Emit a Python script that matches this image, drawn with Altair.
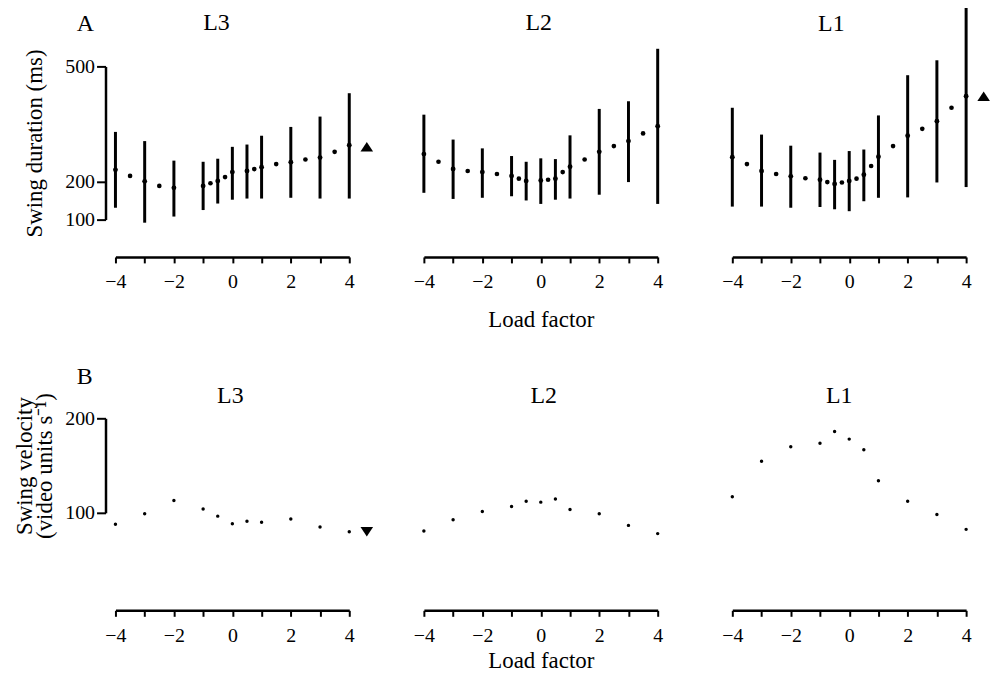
import altair as alt
import pandas as pd

FONT = "Liberation Serif"

# ---------------- Panel A: swing duration (ms) ----------------
bar_lf = [-4, -3, -2, -1, -0.5, 0, 0.5, 1, 2, 3, 4]

a3_mean = [230, 200, 183, 188, 201, 224, 227, 237, 250, 262, 294]
a3_lo = [131, 92, 108, 125, 142, 152, 155, 155, 157, 155, 155]
a3_hi = [329, 305, 254, 251, 259, 290, 296, 319, 342, 369, 430]
a3_mid_lf = [-3.5, -2.5, -0.75, -0.25, 0.75, 1.5, 2.5, 3.5]
a3_mid = [214, 188, 195, 211, 232, 245, 257, 277]

a2_mean = [271, 232, 224, 214, 201, 202, 207, 238, 277, 305, 344]
a2_lo = [170, 154, 157, 161, 150, 141, 152, 155, 165, 198, 141]
a2_hi = [374, 309, 286, 266, 251, 260, 258, 320, 389, 409, 546]
a2_mid_lf = [-3.5, -2.5, -1.5, -0.75, 0.25, 0.75, 1.5, 2.5, 3.5]
a2_mid = [251, 227, 219, 207, 204, 224, 257, 292, 325]

a1_mean = [263, 227, 213, 204, 193, 201, 217, 264, 319, 357, 422]
a1_lo = [134, 134, 131, 133, 127, 122, 148, 157, 158, 197, 185]
a1_hi = [392, 322, 293, 275, 256, 279, 283, 372, 477, 516, 657]
a1_mid_lf = [-3.5, -2.5, -1.5, -0.75, -0.25, 0.25, 0.75, 1.5, 2.5, 3.5]
a1_mid = [245, 219, 208, 198, 197, 207, 240, 292, 337, 392]

# triangles (marker beyond load factor 4)
tri_lf = 4.6
a3_tri = 290
a1_tri = 422

# ---------------- Panel B: swing velocity ----------------
b_lf = [-4, -3, -2, -1, -0.5, 0, 0.5, 1, 2, 3, 4]
b3_vel = [88, 99, 113, 104, 96.5, 88.5, 91, 90, 93.5, 85, 80]
b2_vel = [80.7, 92.6, 101.4, 106.7, 112.3, 111.3, 114.7, 103.5, 99, 86.7, 78]
b1_vel = [117, 154.5, 170, 173.7, 186, 178, 166.7, 134, 112.3, 98.3, 82.5]
b3_tri = 80

x_ticks = [-4, -3, -2, -1, 0, 1, 2, 3, 4]

W = 235
HA = 154
HB = 95

TRI_UP = "M0,-0.75L1,0.75L-1,0.75Z"
TRI_DOWN = "M0,0.75L1,-0.75L-1,-0.75Z"

xscale = alt.Scale(domain=[-4, 4], nice=False, zero=False)
yscaleA = alt.Scale(domain=[100, 500], nice=False, zero=False)
yscaleB = alt.Scale(domain=[100, 200], nice=False, zero=False)


def xaxis(offset, title, tpad):
    return alt.Axis(
        values=x_ticks,
        labelExpr="datum.value % 2 == 0 ? datum.label : ''",
        offset=offset, tickSize=6, tickWidth=2, domainWidth=2.5,
        domainColor="black", tickColor="black",
        labelFont=FONT, labelFontSize=20, labelColor="black",
        labelPadding=9, labelFlush=False, labelOverlap=False, grid=False,
        title=title, titleFont=FONT, titleFontSize=23,
        titleFontWeight="normal", titleColor="black", titlePadding=tpad,
    )


def yaxis(values, title, tpad):
    return alt.Axis(
        values=values, offset=10, tickSize=9, tickWidth=2, domainWidth=2.5,
        domainColor="black", tickColor="black",
        labelFont=FONT, labelFontSize=20, labelColor="black",
        labelPadding=2, grid=False,
        title=title, titleFont=FONT, titleFontSize=23, titleLineHeight=20,
        titleFontWeight="normal", titleColor="black", titlePadding=tpad,
    )


def ptitle(txt, offset, dx):
    return alt.TitleParams(txt, font=FONT, fontSize=24, fontWeight="normal",
                           color="black", offset=offset, dx=dx, anchor="middle")


def panel_a(name, mean, lo, hi, mid_lf, mid, tri, show_y, xtitle, toff, tdx):
    bars = pd.DataFrame({"lf": bar_lf, "v": mean, "lo": lo, "hi": hi})
    mids = pd.DataFrame({"lf": mid_lf, "v": mid})
    yax = yaxis([100, 200, 500], "Swing duration (ms)", 18) if show_y else None
    ytitle = "Swing duration (ms)"
    xe = alt.X("lf:Q", scale=xscale, axis=xaxis(37.5, xtitle, 16.5), title=xtitle)
    rules = alt.Chart(bars).mark_rule(color="black", strokeWidth=3).encode(
        x=xe, y=alt.Y("lo:Q", scale=yscaleA, axis=yax, title=ytitle), y2="hi:Q")
    centers = alt.Chart(bars).mark_circle(color="black", opacity=1, size=24).encode(
        x=xe, y=alt.Y("v:Q", scale=yscaleA, axis=yax, title=ytitle))
    dots = alt.Chart(mids).mark_circle(color="black", opacity=1, size=22).encode(
        x=xe, y=alt.Y("v:Q", scale=yscaleA, axis=yax, title=ytitle))
    layers = [rules, centers, dots]
    if tri is not None:
        tdf = pd.DataFrame({"lf": [tri_lf], "v": [tri]})
        layers.append(alt.Chart(tdf).mark_point(shape=TRI_UP, filled=True, color="black",
                                                opacity=1, size=160).encode(
            x=xe, y=alt.Y("v:Q", scale=yscaleA, axis=yax, title=ytitle)))
    return alt.layer(*layers).properties(width=W, height=HA, title=ptitle(name, toff, tdx))


def panel_b(name, vel, tri, show_y, xtitle, toff, tdx):
    df = pd.DataFrame({"lf": b_lf, "v": vel})
    yt = ["Swing velocity", "(video units s\u207b\u00b9)"]
    yax = yaxis([100, 200], yt, 8.5) if show_y else None
    xe = alt.X("lf:Q", scale=xscale, axis=xaxis(98, xtitle, 4.5), title=xtitle)
    ye = alt.Y("v:Q", scale=yscaleB, axis=yax, title=yt)
    pts = alt.Chart(df).mark_circle(color="black", opacity=1, size=12).encode(x=xe, y=ye)
    layers = [pts]
    if tri is not None:
        tdf = pd.DataFrame({"lf": [tri_lf], "v": [tri]})
        layers.append(alt.Chart(tdf).mark_point(shape=TRI_DOWN, filled=True, color="black",
                                                opacity=1, size=160).encode(x=xe, y=ye))
    return alt.layer(*layers).properties(width=W, height=HB, title=ptitle(name, toff, tdx))


def row_title(txt, offset):
    return alt.TitleParams(txt, font=FONT, fontSize=24, fontWeight="normal", color="black",
                           anchor="start", frame="group", dx=-39, offset=offset)


rowA = alt.hconcat(
    panel_a("L3", a3_mean, a3_lo, a3_hi, a3_mid_lf, a3_mid, a3_tri, True, None, 14, -16),
    panel_a("L2", a2_mean, a2_lo, a2_hi, a2_mid_lf, a2_mid, None, False, "Load factor", 12, -2),
    panel_a("L1", a1_mean, a1_lo, a1_hi, a1_mid_lf, a1_mid, a1_tri, False, None, -31, -18),
    spacing=75, bounds="flush", title=row_title("A", -31.7),
)

rowB = alt.hconcat(
    panel_b("L3", b3_vel, b3_tri, True, None, -15.5, -2),
    panel_b("L2", b2_vel, None, False, "Load factor", 10, 3),
    panel_b("L1", b1_vel, None, False, None, 10, -10),
    spacing=75, bounds="flush", title=row_title("B", -4.3),
)

chart = alt.vconcat(rowA, rowB, spacing=353.7, bounds="flush").properties(
    padding={"left": 5, "top": -5, "right": 0, "bottom": 0}
).configure_view(strokeWidth=0)

chart.save("out.html", embed_options={"renderer": "svg", "actions": False})
